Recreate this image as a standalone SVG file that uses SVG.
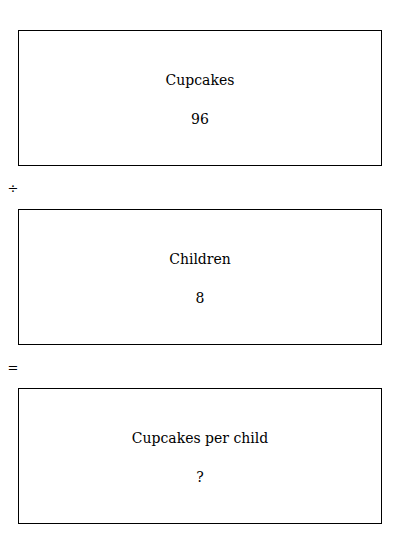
<svg xmlns="http://www.w3.org/2000/svg" width="400" height="534" viewBox="0 0 400 534">
<style>
.box{fill:#fff;stroke:#000;stroke-width:1}
.t{font-family:"DejaVu Serif","Liberation Serif",serif;font-size:14px;fill:#000;text-anchor:middle}
.op{font-family:"DejaVu Serif","Liberation Serif",serif;font-size:13px;fill:#000;text-anchor:middle}
</style>
<rect width="400" height="534" fill="#fff"/>
<g id="node-cupcakes">
<rect class="box" x="18.5" y="30.5" width="363" height="135"/>
<text class="t" x="200" y="85">Cupcakes</text>
<text class="t" x="200" y="124">96</text>
</g>
<g id="node-children">
<rect class="box" x="18.5" y="209.5" width="363" height="135"/>
<text class="t" x="200" y="264">Children</text>
<text class="t" x="200" y="303">8</text>
</g>
<g id="node-result">
<rect class="box" x="18.5" y="388.5" width="363" height="135"/>
<text class="t" x="200" y="443">Cupcakes per child</text>
<text class="t" x="200" y="482">?</text>
</g>
<g id="connectors">
<text class="op" x="13" y="193">÷</text>
<text class="op" x="13" y="372">=</text>
</g>
</svg>
